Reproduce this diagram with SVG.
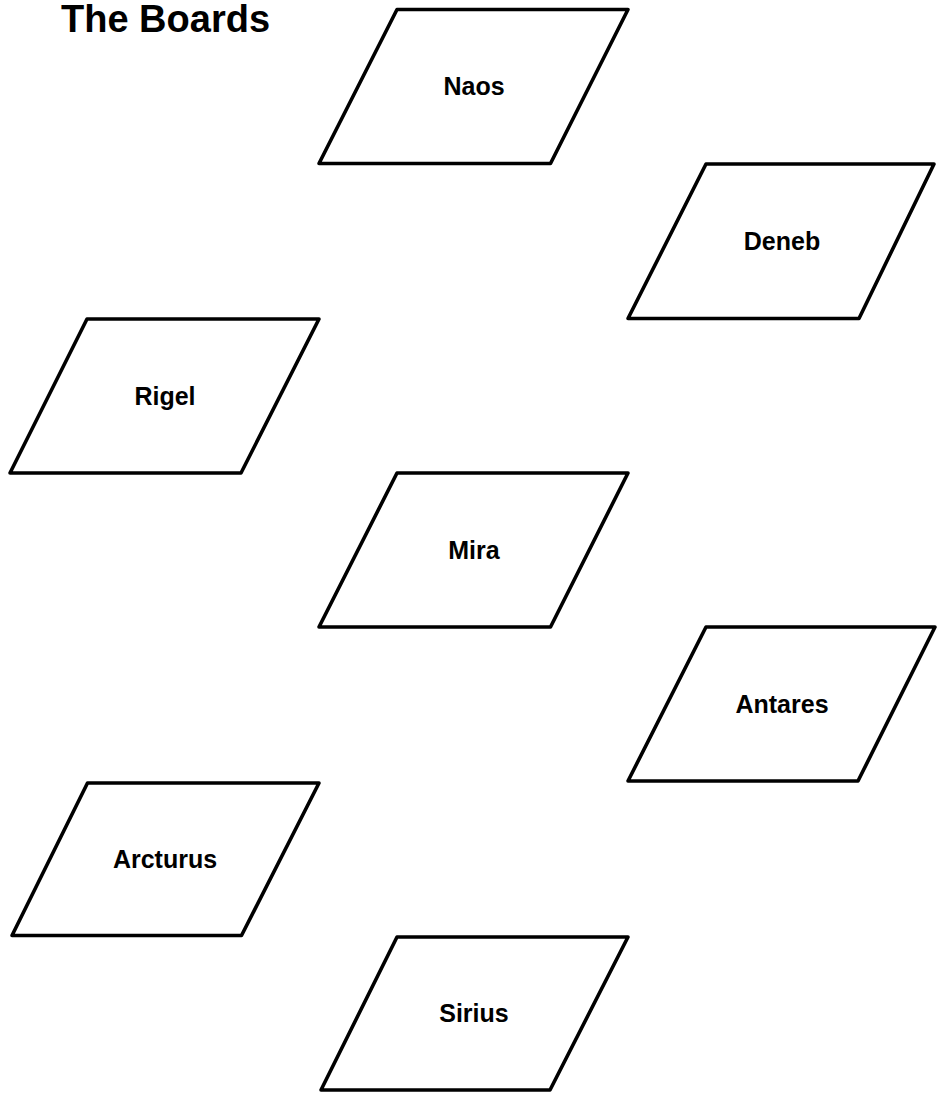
<svg xmlns="http://www.w3.org/2000/svg" width="937" height="1094" viewBox="0 0 937 1094">
<style>
.shape{fill:#fff;stroke:#000;stroke-width:3.6;stroke-linejoin:round}
.lbl{font-family:"Liberation Sans",Arial,sans-serif;font-weight:bold;font-size:25px;fill:#000;text-anchor:middle}
.title{font-family:"Liberation Sans",Arial,sans-serif;font-weight:bold;font-size:38px;fill:#000}
</style>
<rect width="937" height="1094" fill="#fff"/>
<text class="title" x="61" y="32">The Boards</text>
<g id="connectors"></g>
<g id="naos"><polygon class="shape" points="397,9.5 628,9.5 550.5,163.5 319,163.5"/><text class="lbl" x="474" y="95">Naos</text></g>
<g id="deneb"><polygon class="shape" points="706,164 934,164 859,318.5 628,318.5"/><text class="lbl" x="782" y="250">Deneb</text></g>
<g id="rigel"><polygon class="shape" points="87,319 319,319 241,473 10,473"/><text class="lbl" x="165" y="405">Rigel</text></g>
<g id="mira"><polygon class="shape" points="397,473 628,473 550.5,627 319,627"/><text class="lbl" x="474" y="559">Mira</text></g>
<g id="antares"><polygon class="shape" points="706,627 935,627 858,781 628,781"/><text class="lbl" x="782" y="713">Antares</text></g>
<g id="arcturus"><polygon class="shape" points="87.5,783 319,783 241.5,935.5 12,935.5"/><text class="lbl" x="165" y="868">Arcturus</text></g>
<g id="sirius"><polygon class="shape" points="397,937 628,937 550,1090 321,1090"/><text class="lbl" x="474" y="1022">Sirius</text></g>
</svg>
